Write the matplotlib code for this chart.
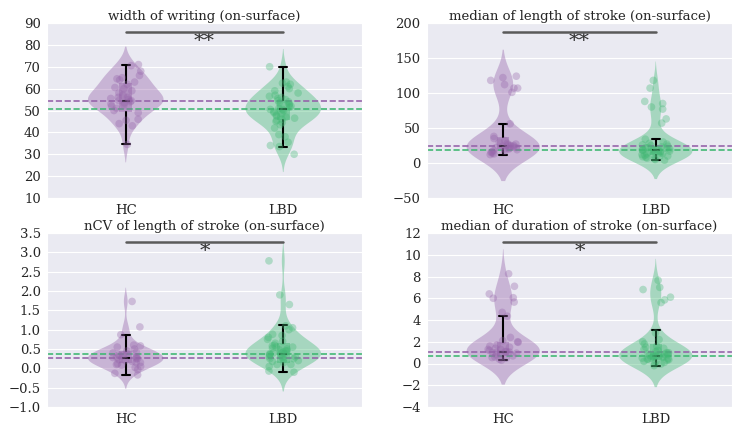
import numpy as np
import pandas as pd
import matplotlib
matplotlib.use("Agg")
import matplotlib.pyplot as plt
import seaborn as sns

groups = ["HC", "LBD"]
palette = ["#9b59b6", "#2ecc71"]

titles = [
    "width of writing (on-surface)",
    "median of length of stroke (on-surface)",
    "nCV of length of stroke (on-surface)",
    "median of duration of stroke (on-surface)",
]
stars = ["**", "**", "*", "*"]

width_hc = [34.5, 43, 44, 45.5, 46, 49, 50, 51, 52, 52.5, 53, 53.5, 54, 54.5, 54.5, 55, 55.5,
            56, 56, 57, 58, 59, 60, 60.5, 62, 63, 64, 64.5, 65, 66, 68, 70.5, 71]
width_lbd = [30, 33.5, 34, 35.5, 38, 39, 42, 43.5, 44.5, 45, 45.5, 46, 46.5, 47, 47.5, 48, 48.5,
             49, 49.5, 50, 50.5, 50.5, 51, 51.5, 52, 52.5, 53, 53.5, 54, 54.5, 55, 55.5, 56,
             56.5, 57, 58, 59, 60, 61, 62, 62.5, 63, 70]
length_hc = [12, 13, 14, 15, 16, 17, 18, 19, 20, 20, 21, 22, 22, 23, 24, 24, 25, 25, 26, 27, 28,
             30, 32, 35, 38, 56, 101, 107, 107, 112, 118, 122, 124]
length_lbd = [4, 5, 6, 7, 8, 9, 10, 10, 11, 12, 12, 13, 14, 14, 15, 16, 16, 17, 18, 18, 19, 19,
              20, 20, 21, 22, 22, 23, 24, 25, 26, 27, 28, 30, 34, 57, 63, 77, 80, 85, 88, 107, 118]
ncv_hc = [-0.17, -0.13, -0.03, 0.02, 0.05, 0.08, 0.1, 0.12, 0.15, 0.15, 0.18, 0.2, 0.22, 0.25,
          0.25, 0.28, 0.28, 0.3, 0.3, 0.32, 0.35, 0.35, 0.38, 0.4, 0.42, 0.45, 0.5, 0.55, 0.58,
          0.6, 0.87, 1.07, 1.73]
ncv_lbd = [-0.1, -0.07, 0.05, 0.1, 0.1, 0.15, 0.18, 0.2, 0.22, 0.25, 0.25, 0.28, 0.3, 0.3, 0.32,
           0.35, 0.35, 0.38, 0.38, 0.4, 0.4, 0.42, 0.45, 0.45, 0.48, 0.5, 0.52, 0.55, 0.55, 0.58,
           0.6, 0.65, 0.7, 0.75, 0.8, 0.85, 0.88, 1.0, 1.05, 1.1, 1.65, 1.9, 2.78]
duration_hc = [0.3, 0.4, 0.5, 0.55, 0.6, 0.7, 0.8, 0.9, 0.95, 1.0, 1.0, 1.05, 1.1, 1.1, 1.2, 1.3,
               1.3, 1.4, 1.5, 1.6, 1.7, 1.95, 2.0, 2.1, 2.4, 4.35, 4.7, 5.65, 6.0, 6.05, 6.4, 7.1, 8.25]
duration_lbd = [-0.2, -0.05, 0.0, 0.1, 0.2, 0.2, 0.3, 0.35, 0.4, 0.4, 0.45, 0.5, 0.5, 0.55, 0.6,
                0.6, 0.65, 0.7, 0.7, 0.75, 0.8, 0.8, 0.85, 0.9, 0.9, 1.0, 1.0, 1.1, 1.2, 1.3, 1.4,
                1.5, 1.6, 1.8, 2.0, 2.2, 2.8, 5.6, 5.85, 6.1, 6.8, 7.0, 7.65]

values = [(width_hc, width_lbd), (length_hc, length_lbd), (ncv_hc, ncv_lbd), (duration_hc, duration_lbd)]

# box stats per panel: (whislo, q1, med, q3, whishi) for HC, LBD
box_hc = [(34.5, 49.5, 54.5, 62.5, 71), (12, 20, 24, 37, 56), (-0.17, 0.15, 0.28, 0.45, 0.87),
          (0.3, 0.7, 1.1, 2.0, 4.35)]
box_lbd = [(33.5, 45.5, 50.7, 55, 70), (4, 11, 19, 25, 35), (-0.1, 0.15, 0.38, 0.65, 1.12),
           (-0.2, 0.3, 0.7, 1.8, 3.1)]

sig_y = [86, 187, 3.27, 11.2]
ylims = [(10, 90), (-50, 200), (-1.0, 3.5), (-4, 12)]
ysteps = [10, 50, 0.5, 2]

sns.set_style("darkgrid")
plt.rcParams["font.family"] = "serif"
plt.rcParams["font.serif"] = ["DejaVu Serif"]
np.random.seed(3)

muted = sns.color_palette(palette, desat=0.75)

fig = plt.figure(figsize=(7.32, 4.26), dpi=100)
W, H = 732, 426
rects = [(47, 23, 315, 175), (427, 23, 305, 175), (47, 233, 315, 174), (427, 233, 305, 174)]

for i in range(4):
    x0, y0, w, h = rects[i]
    ax = fig.add_axes([x0 / W, 1 - (y0 + h) / H, w / W, h / H])
    hc, lbd = values[i]
    df = pd.DataFrame({"group": ["HC"] * len(hc) + ["LBD"] * len(lbd), "value": hc + lbd})

    sns.violinplot(data=df, x="group", y="value", hue="group", order=groups, hue_order=groups,
                   palette=palette, inner=None, cut=2, density_norm="count", width=0.48,
                   linewidth=0, saturation=0.75, legend=False, ax=ax)
    for c in ax.collections:
        c.set_alpha(0.4)
        c.set_edgecolor("none")

    ax.axhline(box_hc[i][2], color=muted[0], ls="--", lw=1.2, zorder=2)
    ax.axhline(box_lbd[i][2], color=muted[1], ls="--", lw=1.2, zorder=2)

    sns.stripplot(data=df, x="group", y="value", hue="group", order=groups, hue_order=groups,
                  palette=muted, jitter=0.1, size=5.5, alpha=0.35, linewidth=0, legend=False,
                  ax=ax, zorder=3)

    stats = []
    for b in (box_hc[i], box_lbd[i]):
        stats.append(dict(whislo=b[0], q1=b[1], med=b[2], q3=b[3], whishi=b[4]))
    bp = ax.bxp(stats, positions=[0, 1], widths=0.08, capwidths=0.05, patch_artist=True,
                showfliers=False, manage_ticks=False,
                whiskerprops=dict(color="black", lw=1.5),
                capprops=dict(color="black", lw=1.5),
                medianprops=dict(color="black", lw=1.5))
    for patch, col in zip(bp["boxes"], muted):
        patch.set_facecolor(col)
        patch.set_alpha(0.45)
        patch.set_linewidth(0)
    for line in bp["medians"]:
        xd = line.get_xdata()
        mid = (xd[0] + xd[1]) / 2
        line.set_xdata([mid - 0.025, mid + 0.025])

    ax.plot([0, 1], [sig_y[i], sig_y[i]], color="#5a5a5a", lw=1.8, zorder=4)
    ax.text(0.5, sig_y[i], stars[i], ha="center", va="top", fontsize=15, color="#333333")

    lo, hi = ylims[i]
    ax.set_ylim(lo, hi)
    ax.set_yticks(np.arange(lo, hi + ysteps[i] / 2, ysteps[i]))
    if i == 2:
        ax.set_yticklabels([f"{v:.1f}".replace("-", "\u2212") for v in ax.get_yticks()])
    ax.set_xlim(-0.5, 1.5)
    ax.set_xlabel("")
    ax.set_ylabel("")
    ax.set_title(titles[i], fontsize=9.5, pad=2)
    ax.tick_params(labelsize=9.5, pad=1)

plt.savefig("out.png", dpi=100)
